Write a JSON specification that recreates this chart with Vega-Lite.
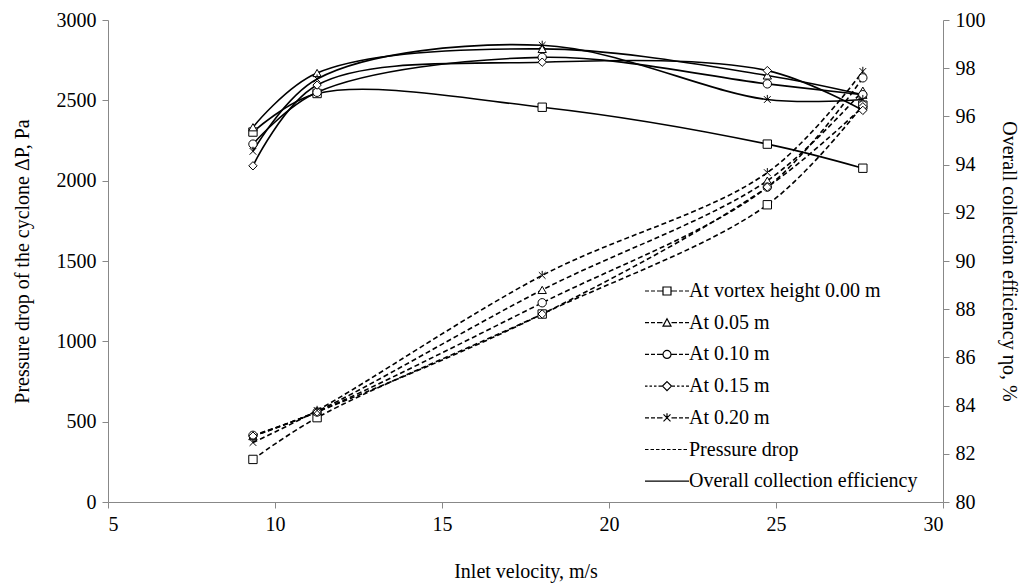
{
  "$schema": "https://vega.github.io/schema/vega-lite/v6.json",
  "width": 835,
  "height": 482,
  "autosize": {"type": "none"},
  "padding": {"left": 108, "top": 20, "right": 84, "bottom": 82},
  "background": "white",
  "config": {
    "view": {"stroke": null},
    "font": "Liberation Serif",
    "axis": {"grid": false, "labelFont": "Liberation Serif", "titleFont": "Liberation Serif", "labelFontSize": 20, "titleFontSize": 20, "titleFontWeight": "normal", "labelColor": "black", "titleColor": "black", "domainColor": "#888888", "tickColor": "#888888", "tickSize": 6},
    "legend": {"labelFont": "Liberation Serif", "labelFontSize": 20, "labelColor": "black"}
  },
  "datasets": {
    "pressure": [
      {"v": 9.34, "s": "s00", "p": 265}, {"v": 11.26, "s": "s00", "p": 525}, {"v": 18.0, "s": "s00", "p": 1170}, {"v": 24.74, "s": "s00", "p": 1850}, {"v": 27.6, "s": "s00", "p": 2470},
      {"v": 9.34, "s": "s05", "p": 410}, {"v": 11.26, "s": "s05", "p": 565}, {"v": 18.0, "s": "s05", "p": 1320}, {"v": 24.74, "s": "s05", "p": 2000}, {"v": 27.6, "s": "s05", "p": 2560},
      {"v": 9.34, "s": "s10", "p": 415}, {"v": 11.26, "s": "s10", "p": 560}, {"v": 18.0, "s": "s10", "p": 1240}, {"v": 24.74, "s": "s10", "p": 1960}, {"v": 27.6, "s": "s10", "p": 2640},
      {"v": 9.34, "s": "s15", "p": 410}, {"v": 11.26, "s": "s15", "p": 560}, {"v": 18.0, "s": "s15", "p": 1170}, {"v": 24.74, "s": "s15", "p": 1960}, {"v": 27.6, "s": "s15", "p": 2460},
      {"v": 9.34, "s": "s20", "p": 370}, {"v": 11.26, "s": "s20", "p": 570}, {"v": 18.0, "s": "s20", "p": 1410}, {"v": 24.74, "s": "s20", "p": 2050}, {"v": 27.6, "s": "s20", "p": 2680}
    ],
    "efficiency": [
      {"v": 9.34, "s": "s00", "e": 95.35}, {"v": 11.26, "s": "s00", "e": 96.95}, {"v": 18.0, "s": "s00", "e": 96.38}, {"v": 24.74, "s": "s00", "e": 94.85}, {"v": 27.6, "s": "s00", "e": 93.85},
      {"v": 9.34, "s": "s05", "e": 95.55}, {"v": 11.26, "s": "s05", "e": 97.8}, {"v": 18.0, "s": "s05", "e": 98.8}, {"v": 24.74, "s": "s05", "e": 97.7}, {"v": 27.6, "s": "s05", "e": 96.9},
      {"v": 9.34, "s": "s10", "e": 94.85}, {"v": 11.26, "s": "s10", "e": 97.0}, {"v": 18.0, "s": "s10", "e": 98.45}, {"v": 24.74, "s": "s10", "e": 97.35}, {"v": 27.6, "s": "s10", "e": 96.9},
      {"v": 9.34, "s": "s15", "e": 93.95}, {"v": 11.26, "s": "s15", "e": 97.3}, {"v": 18.0, "s": "s15", "e": 98.25}, {"v": 24.74, "s": "s15", "e": 97.9}, {"v": 27.6, "s": "s15", "e": 96.25},
      {"v": 9.34, "s": "s20", "e": 94.55}, {"v": 11.26, "s": "s20", "e": 97.55}, {"v": 18.0, "s": "s20", "e": 98.95}, {"v": 24.74, "s": "s20", "e": 96.7}, {"v": 27.6, "s": "s20", "e": 96.7}
    ],
    "legendEntries": [
      {"entry": "At vortex height 0.00 m"}, {"entry": "At 0.05 m"}, {"entry": "At 0.10 m"}, {"entry": "At 0.15 m"}, {"entry": "At 0.20 m"}, {"entry": "Pressure drop"}, {"entry": "Overall collection efficiency"}
    ]
  },
  "layer": [
    {
      "data": {"name": "pressure"},
      "encoding": {
        "x": {"field": "v", "type": "quantitative", "scale": {"domain": [5, 30], "nice": false, "zero": false},
              "axis": {"values": [5, 10, 15, 20, 25, 30], "title": "Inlet velocity, m/s", "titlePadding": 27, "labelPadding": 6}},
        "y": {"field": "p", "type": "quantitative", "scale": {"domain": [0, 3000], "nice": false},
              "axis": {"values": [0, 500, 1000, 1500, 2000, 2500, 3000], "format": "d", "title": "Pressure drop of the cyclone ΔP, Pa", "titlePadding": 24, "labelPadding": 6}}
      },
      "layer": [
        {"mark": {"type": "line", "color": "black", "strokeWidth": 1.6, "strokeDash": [5, 3], "interpolate": "catmull-rom"},
         "encoding": {"detail": {"field": "s", "type": "nominal"}}},
        {"mark": {"type": "point", "filled": true, "fill": "white", "stroke": "black", "strokeWidth": 1, "size": 70, "opacity": 1},
         "encoding": {"shape": {"field": "s", "type": "nominal", "legend": null,
            "scale": {"domain": ["s00", "s05", "s10", "s15", "s20"], "range": ["square", "triangle-up", "circle", "diamond", "M-0.8,-0.8L0.8,0.8M-0.8,0.8L0.8,-0.8M0,-1.1V0"]}}}}
      ]
    },
    {
      "data": {"name": "efficiency"},
      "encoding": {
        "x": {"field": "v", "type": "quantitative", "scale": {"domain": [5, 30], "nice": false, "zero": false}},
        "y": {"field": "e", "type": "quantitative", "scale": {"domain": [80, 100], "nice": false, "zero": false},
              "axis": {"orient": "right", "values": [80, 82, 84, 86, 88, 90, 92, 94, 96, 98, 100], "title": "Overall collection efficiency ηo, %", "titlePadding": 13, "labelPadding": 6}}
      },
      "layer": [
        {"mark": {"type": "line", "color": "black", "strokeWidth": 1.6, "interpolate": "catmull-rom"},
         "encoding": {"detail": {"field": "s", "type": "nominal"}}},
        {"mark": {"type": "point", "filled": true, "fill": "white", "stroke": "black", "strokeWidth": 1, "size": 70, "opacity": 1},
         "encoding": {"shape": {"field": "s", "type": "nominal", "legend": null,
            "scale": {"domain": ["s00", "s05", "s10", "s15", "s20"], "range": ["square", "triangle-up", "circle", "diamond", "M-0.8,-0.8L0.8,0.8M-0.8,0.8L0.8,-0.8M0,-1.1V0"]}}}}
      ]
    },
    {
      "data": {"name": "legendEntries"},
      "transform": [{"filter": "false"}],
      "mark": {"type": "point", "filled": false, "color": "black", "strokeWidth": 1.2, "opacity": 1},
      "encoding": {
        "shape": {"field": "entry", "type": "nominal",
          "scale": {"domain": ["At vortex height 0.00 m", "At 0.05 m", "At 0.10 m", "At 0.15 m", "At 0.20 m", "Pressure drop", "Overall collection efficiency"],
                    "range": [
                      "M-2.2,0H-1.8M-1.6,0H-1.2M-1,0H-0.45M-0.4,-0.4H0.4V0.4H-0.4ZM0.45,0H1M1.2,0H1.6M1.8,0H2.2",
                      "M-2.2,0H-1.8M-1.6,0H-1.2M-1,0H-0.45M0,-0.4L0.4,0.35H-0.4ZM0.45,0H1M1.2,0H1.6M1.8,0H2.2",
                      "M-2.2,0H-1.8M-1.6,0H-1.2M-1,0H-0.45M0.4,0A0.4,0.4 0 1,1 -0.4,0A0.4,0.4 0 1,1 0.4,0ZM0.45,0H1M1.2,0H1.6M1.8,0H2.2",
                      "M-2.2,0H-1.95M-1.75,0H-1.5M-1.3,0H-1.05M-0.85,0H-0.5M0,-0.45L0.45,0L0,0.45L-0.45,0ZM0.5,0H0.8M1,0H1.25M1.45,0H1.7M1.9,0H2.2",
                      "M-2.2,0H-1.8M-1.6,0H-1.2M-1,0H-0.45M-0.35,-0.35L0.35,0.35M-0.35,0.35L0.35,-0.35M0,-0.45V0M0.45,0H1M1.2,0H1.6M1.8,0H2.2",
                      "M-2.2,0H-1.85M-1.65,0H-1.3M-1.1,0H-0.75M-0.55,0H-0.2M0,0H0.35M0.55,0H0.9M1.1,0H1.45M1.65,0H2.0",
                      "M-2.2,0H2.2"
                    ]},
          "legend": {"title": null, "orient": "none", "legendX": 548, "legendY": 260, "symbolSize": 400, "symbolStrokeWidth": 1.2, "symbolStrokeColor": "black", "labelOffset": 11, "rowPadding": 10.7, "padding": 0, "labelFontSize": 20, "labelLimit": 400}}
      }
    }
  ],
  "resolve": {"scale": {"y": "independent", "shape": "independent"}}
}
